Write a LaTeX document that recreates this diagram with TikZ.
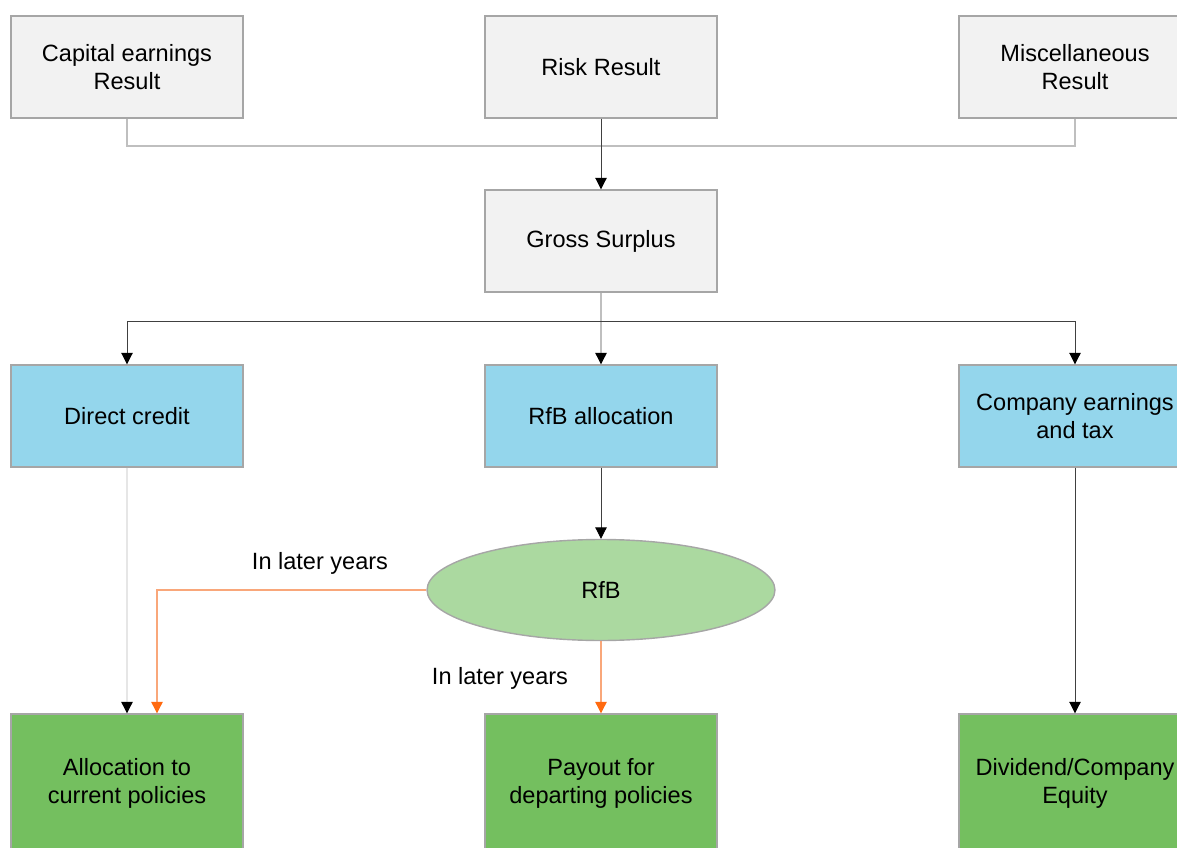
\documentclass[tikz,border=0pt]{standalone}
\usepackage{fontspec}
\setmainfont{Liberation Sans}
\usetikzlibrary{arrows.meta,calc,positioning,shapes.geometric}

\definecolor{boxgray}{HTML}{F2F2F2}
\definecolor{edgegray}{HTML}{A6A6A6}
\definecolor{skyblue}{HTML}{94D6EC}
\definecolor{palegreen}{HTML}{ABD9A0}
\definecolor{leafgreen}{HTML}{74BF5F}
\definecolor{flowline}{HTML}{BFBFBF}
\definecolor{faintline}{HTML}{E6E6E6}
\definecolor{laterorange}{HTML}{FF6A10}
\definecolor{laterline}{HTML}{F9A77A}

\begin{document}
\begin{tikzpicture}[
  x=0.02cm, y=-0.02cm,
  font=\fontsize{13.4}{16}\selectfont,
  box/.style={rectangle, draw=edgegray, line width=0.8pt, minimum width=4.64cm,
              minimum height=2.04cm, align=center, inner sep=0pt},
  sourcebox/.style={box, fill=boxgray},
  splitbox/.style={box, fill=skyblue},
  endbox/.style={box, fill=leafgreen, minimum height=2.76cm},
  pool/.style={ellipse, draw=edgegray, line width=0.8pt, fill=palegreen,
               minimum width=6.96cm, minimum height=2.02cm, inner sep=0pt},
  tip/.style={-{Triangle[length=6.5pt,width=6.5pt,color=black]}},
  feed/.style={draw=flowline, line width=0.6pt},
  branch/.style={draw=black!75, line width=0.5pt},
  later/.style={draw=laterline, line width=0.6pt,
                -{Triangle[length=6.5pt,width=6.5pt,color=laterorange]}}
]
\useasboundingbox (0,0) rectangle (1177,848);

% ---------- results ----------
\node[sourcebox] (cap)  at (127,67)  {Capital earnings\\Result};
\node[sourcebox] (risk) at (601,67)  {Risk Result};
\node[sourcebox] (misc) at (1075,67) {Miscellaneous\\Result};

\node[sourcebox] (gross) at (601,241) {Gross Surplus};

% ---------- split ----------
\node[splitbox] (direct) at (127,416)  {Direct credit};
\node[splitbox] (rfbA)   at (601,416)  {RfB allocation};
\node[splitbox] (comp)   at (1075,416) {Company earnings\\and tax};

\node[pool] (rfb) at (601,590) {RfB};

% ---------- outcomes ----------
\node[endbox] (alloc)  at (127,783)  {Allocation to\\current policies};
\node[endbox] (payout) at (601,783)  {Payout for\\departing policies};
\node[endbox] (divid)  at (1075,783) {Dividend/Company\\Equity};

% ---------- connectors ----------
\coordinate (topjoin) at (601,146);
\draw[feed] (cap.south) |- (topjoin) -| (misc.south);
\draw[branch, tip] (risk) -- (gross);

\coordinate (midjoin) at (601,321);
\draw[feed, tip] (gross) -- (rfbA);
\draw[branch, tip] (midjoin) -| (direct.north);
\draw[branch, tip] (midjoin) -| (comp.north);

\draw[faintline, line width=0.6pt, tip] (direct) -- (alloc);
\draw[branch, tip] (rfbA) -- (rfb);
\draw[branch, tip] (comp) -- (divid);

\coordinate (allocin) at ($(alloc.north)+(30,0)$);
\draw[later] (rfb.west) -| (allocin);
\draw[later] (rfb.south) -- (payout.north);

\node (lateA) at (320,563) {In later years};
\node (lateB) at (500,678) {In later years};
\end{tikzpicture}
\end{document}
